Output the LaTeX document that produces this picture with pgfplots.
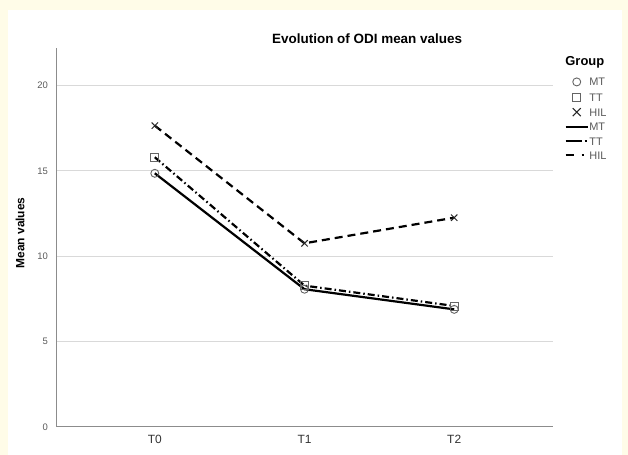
\documentclass[border=0pt]{standalone}
\usepackage{pgfplots}
\pgfplotsset{compat=1.18}
\usepackage{fontspec}
\setmainfont{Liberation Sans}
\definecolor{cream}{RGB}{255,252,232}
\definecolor{spine}{RGB}{140,140,140}
\definecolor{gridc}{RGB}{217,217,217}
\definecolor{markc}{RGB}{100,100,100}
\definecolor{tickc}{RGB}{90,90,90}
\begin{document}
\begin{tikzpicture}[x=1bp,y=1bp]
\fill[cream] (0,0) rectangle (628,455);
\fill[white] (8,0) rectangle (622,445);
\path[use as bounding box] (0,0) rectangle (628,455);
\begin{axis}[
  at={(56bp,28bp)}, anchor=south west,
  scale only axis, width=497bp, height=379bp,
  xmin=-0.66, xmax=2.66, ymin=0, ymax=22.2,
  clip mode=individual,
  axis lines*=left,
  axis line style={spine, line width=1bp},
  ytick={0,5,10,15,20},
  xtick={0,1,2}, xticklabels={T0,T1,T2},
  major tick length=0pt,
  ymajorgrids, grid style={gridc, line width=1bp},
  yticklabel style={font=\fontsize{9.5}{10}\selectfont, text=tickc, anchor=east, inner xsep=0pt, xshift=-8bp},
  xticklabel style={font=\fontsize{12}{12}\selectfont, text=black!80, anchor=north, inner ysep=0pt, yshift=-8bp},
  /pgf/number format/assume math mode=true,
  title={Evolution of ODI mean values},
  title style={at={(axis description cs:0.626,1.008)}, anchor=center, font=\bfseries\fontsize{13.5}{14}\selectfont},
  ylabel={Mean values},
  ylabel style={at={(axis description cs:-0.0724,0.512)}, anchor=center, font=\bfseries\fontsize{12}{12}\selectfont},
  legend style={at={(axis description cs:1.017,0.928)}, anchor=north west, draw=none, fill=none,
    font=\fontsize{11}{11}\selectfont, text=tickc, row sep=6.2bp,
    nodes={inner xsep=0.5bp, inner ysep=0bp, text height=8bp, text depth=0bp}},
  legend cell align=left,
]
% lines
\addplot[forget plot, black, line width=2.2bp, solid] coordinates {(0,14.86) (1,8.07) (2,6.89)};
\addplot[forget plot, black, line width=2.2bp, dash pattern=on 7bp off 3bp on 1.5bp off 3bp] coordinates {(0,15.80) (1,8.28) (2,7.09)};
\addplot[forget plot, black, line width=2.2bp, dash pattern=on 8bp off 5bp] coordinates {(0,17.65) (1,10.76) (2,12.26)};
% markers
\addplot[forget plot, only marks, mark=o, mark size=4bp, mark options={draw=markc, line width=0.9bp, solid}] coordinates {(0,14.86) (1,8.07) (2,6.89)};
\addplot[forget plot, only marks, mark=square, mark size=4bp, mark options={draw=markc, line width=0.9bp, solid}] coordinates {(0,15.80) (1,8.28) (2,7.09)};
\addplot[forget plot, only marks, mark=x, mark size=4.5bp, mark options={draw=black!85, line width=1bp, solid}] coordinates {(0,17.65) (1,10.76) (2,12.26)};
% legend
\addlegendimage{legend image code/.code={\draw[draw=markc, line width=0.9bp, solid] (11bp,0bp) circle (4bp); \path[draw=none] (0bp,0bp) -- (22bp,0bp);}}
\addlegendentry{MT}
\addlegendimage{legend image code/.code={\draw[draw=markc, line width=0.9bp, solid] (7bp,-4bp) rectangle (15bp,4bp); \path[draw=none] (0bp,0bp) -- (22bp,0bp);}}
\addlegendentry{TT}
\addlegendimage{legend image code/.code={\draw[draw=black!85, line width=1bp, solid] (7bp,-4bp) -- (15bp,4bp) (7bp,4bp) -- (15bp,-4bp); \path[draw=none] (0bp,0bp) -- (22bp,0bp);}}
\addlegendentry{HIL}
\addlegendimage{legend image code/.code={\draw[black, line width=2.2bp, solid] (0bp,0bp) -- (22bp,0bp);}}
\addlegendentry{MT}
\addlegendimage{legend image code/.code={\draw[black, line width=2.2bp, dash pattern=on 16bp off 3bp on 2bp off 5bp] (0bp,0bp) -- (22bp,0bp);}}
\addlegendentry{TT}
\addlegendimage{legend image code/.code={\draw[black, line width=2.2bp, dash pattern=on 8bp off 8bp on 2bp off 10bp] (0bp,0bp) -- (22bp,0bp);}}
\addlegendentry{HIL}
\node[font=\bfseries\fontsize{13}{13}\selectfont, anchor=center] at (axis description cs:1.064,0.963) {Group};
\end{axis}
\end{tikzpicture}
\end{document}
